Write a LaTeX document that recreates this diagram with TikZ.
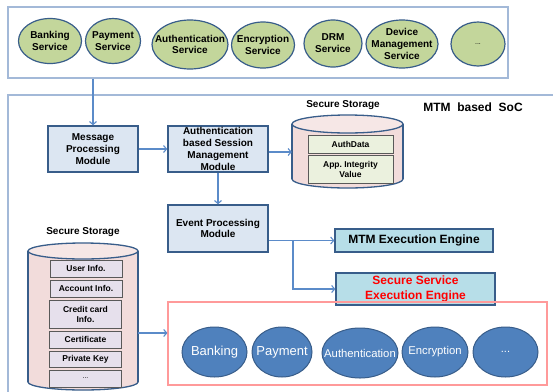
\documentclass[tikz,border=0pt]{standalone}
\usepackage{fontspec}
\setmainfont{Liberation Sans}
\usetikzlibrary{shapes.geometric,arrows.meta}

\definecolor{edgeblue}{HTML}{385D8A}
\definecolor{frameblue}{HTML}{A3B9D8}
\definecolor{arrowblue}{HTML}{5B8BC9}
\definecolor{svcgreen}{HTML}{C3D69B}
\definecolor{modfill}{HTML}{DCE6F2}
\definecolor{enginefill}{HTML}{B7DEE8}
\definecolor{appblue}{HTML}{4F81BD}
\definecolor{storepink}{HTML}{F2DCDB}
\definecolor{cellgreen}{HTML}{EBF1DE}
\definecolor{celllilac}{HTML}{E6E0EC}
\definecolor{cellline}{HTML}{595959}
\definecolor{redframe}{HTML}{FF9A9A}

\tikzset{
  % ellipses keep their given size; the text sits on them as a centred label
  svc/.style={ellipse, draw=edgeblue, line width=1.2pt, fill=svcgreen, inner sep=0pt},
  svctext/.style={align=center, inner sep=0pt, font=\fontsize{10}{11.8}\selectfont\bfseries},
  modbox/.style={rectangle, draw=edgeblue, line width=1.5pt, fill=modfill, inner sep=0pt,
    align=center, font=\fontsize{10}{11.8}\selectfont\bfseries},
  engine/.style={rectangle, draw=edgeblue, line width=1.3pt, fill=enginefill, inner sep=0pt,
    align=center, font=\fontsize{12}{14.5}\selectfont\bfseries},
  app/.style={ellipse, draw=edgeblue, line width=1pt, fill=appblue, inner sep=0pt,
    minimum height=50pt},
  apptext/.style={inner sep=0pt, text=white},
  cell/.style={rectangle, draw=cellline, line width=0.8pt, inner sep=0pt,
    align=center, font=\fontsize{8.5}{10}\selectfont\bfseries},
  frame/.style={draw=frameblue, line width=1.2pt},
  arr/.style={draw=arrowblue, line width=1.1pt, -{Straight Barb[length=3pt,width=7pt]}},
  storelabel/.style={font=\fontsize{10}{12}\selectfont\bfseries},
  cylside/.style={draw=edgeblue, line width=1.3pt}
}

\begin{document}
\begin{tikzpicture}[x=1pt,y=-1pt]
\useasboundingbox (0,0) rectangle (553,391);
\clip (0,0) rectangle (553,391);
\fill[white] (0,0) rectangle (553,391);

% ---------- service layer ----------
\node[frame, rectangle, minimum width=500pt, minimum height=71pt, inner sep=0pt] (top) at (258,42.5) {};
\node[svc, minimum width=63pt, minimum height=45pt, label={[svctext]center:Banking\\Service}] (s1) at (50,41) {};
\node[svc, minimum width=55pt, minimum height=45pt, label={[svctext]center:Payment\\Service}] (s2) at (113,41) {};
\node[svc, minimum width=76pt, minimum height=49pt, label={[svctext]center:Authentication\\Service}] (s3) at (190,44.5) {};
\node[svc, minimum width=63pt, minimum height=46pt, label={[svctext]center:Encryption\\Service}] (s4) at (263,45) {};
\node[svc, minimum width=58pt, minimum height=47pt, label={[svctext]center:DRM\\Service}] (s5) at (333,43.5) {};
\node[svc, minimum width=72pt, minimum height=48pt, label={[svctext]center:Device\\Management\\Service}] (s6) at (402,44) {};
\node[svc, minimum width=54pt, minimum height=44pt, label={[svctext, font=\fontsize{7}{8}\selectfont]center:...}] (s7) at (478,44) {};

% ---------- SoC frame ----------
\draw[frame] (8,420) -- (8,95) -- (570,95);
\node[font=\fontsize{12}{14}\selectfont\bfseries] (soc) at (473,107) {MTM\ \ based\ \ SoC};

% ---------- processing modules ----------
\node[modbox, minimum width=90pt, minimum height=46pt] (mpm) at (93,149) {Message\\Processing\\Module};
\node[modbox, minimum width=100pt, minimum height=46pt] (asm) at (218,149) {Authentication\\based Session\\Management\\Module};
\node[modbox, minimum width=100pt, minimum height=47pt] (epm) at (218,228.5) {Event Processing\\Module};

% ---------- upper secure storage ----------
\node[storelabel] (ss1lbl) at (343,105) {Secure Storage};
\fill[storepink, draw=edgeblue, line width=1.3pt] (347.5,179) ellipse (55.5 and 9);
\fill[storepink] (292,124) rectangle (403,179);
\draw[cylside] (292,124) -- (292,179) (403,124) -- (403,179);
\fill[storepink!70!white, draw=edgeblue, line width=1.3pt] (347.5,124) ellipse (55.5 and 9);
\node[minimum width=111pt, minimum height=55pt, inner sep=0pt] (ss1) at (347.5,151.5) {};
\node[cell, fill=cellgreen, minimum width=85pt, minimum height=18pt] (ad) at (350.5,144) {AuthData};
\node[cell, fill=cellgreen, minimum width=85pt, minimum height=28pt] (aiv) at (350.5,169) {App.\ Integrity\\Value};

% ---------- execution engines ----------
\node[engine, minimum width=158pt, minimum height=23pt] (mtm) at (414,240.5) {MTM Execution Engine};
\node[engine, minimum width=159pt, minimum height=32pt, text=red] (sse) at (415.5,289) {Secure Service\\Execution Engine};

% ---------- secure services ----------
\node[draw=redframe, line width=1.2pt, rectangle, minimum width=379pt, minimum height=83pt, inner sep=0pt] (apps) at (357.5,343.5) {};
\node[app, minimum width=65pt, label={[apptext, font=\fontsize{13}{15}\selectfont]center:Banking}] (a1) at (214.5,352) {};
\node[app, minimum width=60pt, label={[apptext, font=\fontsize{13}{15}\selectfont]center:Payment}] (a2) at (282,352) {};
\node[app, minimum width=76pt, label={[apptext, font=\fontsize{11.3}{13}\selectfont]center:Authentication}] (a3) at (360,353) {};
\node[app, minimum width=66pt, label={[apptext, font=\fontsize{11.3}{13}\selectfont]center:Encryption}] (a4) at (435,352) {};
\node[app, minimum width=65pt, label={[apptext, font=\fontsize{11}{13}\selectfont]center:...}] (a5) at (505.5,352) {};

% ---------- lower secure storage ----------
\node[storelabel] (ss2lbl) at (83,232) {Secure Storage};
\fill[storepink, draw=edgeblue, line width=1.3pt] (83,382) ellipse (55 and 8);
\fill[storepink] (28,251) rectangle (138,382);
\draw[cylside] (28,251) -- (28,382) (138,251) -- (138,382);
\fill[storepink!70!white, draw=edgeblue, line width=1.3pt] (83,251) ellipse (55 and 8);
\node[minimum width=110pt, minimum height=131pt, inner sep=0pt] (ss2) at (83,316.5) {};
\node[cell, fill=celllilac, minimum width=72pt, minimum height=17pt] (c1) at (86,268.5) {User Info.};
\node[cell, fill=celllilac, minimum width=72pt, minimum height=17pt] (c2) at (86,288.5) {Account Info.};
\node[cell, fill=celllilac, minimum width=72pt, minimum height=28pt] (c3) at (85.5,314) {Credit card\\Info.};
\node[cell, fill=celllilac, minimum width=72pt, minimum height=17pt] (c4) at (85.5,339.5) {Certificate};
\node[cell, fill=celllilac, minimum width=72pt, minimum height=16pt] (c5) at (85.5,359) {Private Key};
\node[cell, fill=celllilac, minimum width=72pt, minimum height=17pt, font=\fontsize{7}{8}\selectfont] (c6) at (85.5,378.5) {...};

% ---------- connectors ----------
\draw[arr] (mpm.north |- top.south) -- (mpm.north);
\draw[arr] (mpm.east) -- (asm.west);
\coordinate (asmout) at ([yshift=-3pt]asm.east);
\draw[arr] (asmout) -- (ss1.west |- asmout);
\draw[arr] (asm.south) -- (epm.north);
\draw[arr] (epm.east |- mtm.west) -- (mtm.west);
\coordinate (fork) at (293,240.5);
\draw[arr] (fork) |- (sse.west);
\coordinate (ss2out) at (138,333);
\draw[arr] (ss2out) -- (apps.west |- ss2out);
\end{tikzpicture}
\end{document}
